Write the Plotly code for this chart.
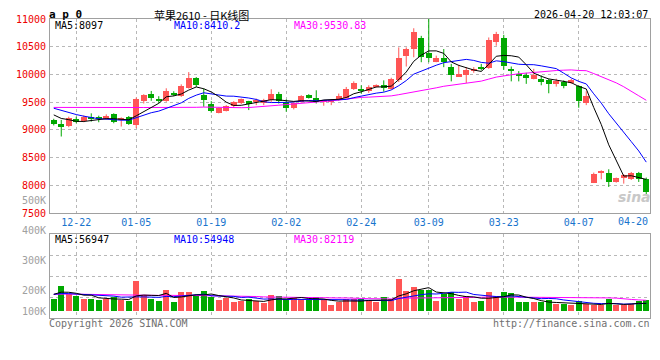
import plotly.graph_objects as go

# ---------------- data ----------------
dates = ["12-17", "12-18", "12-19", "12-22", "12-23", "12-24", "12-25", "12-26", "12-29", "12-30", "12-31",
         "01-05", "01-06", "01-07", "01-08", "01-09", "01-12", "01-13", "01-14", "01-15", "01-16",
         "01-19", "01-20", "01-21", "01-22", "01-23", "01-26", "01-27", "01-28", "01-29", "01-30",
         "02-02", "02-03", "02-04", "02-05", "02-06", "02-09", "02-10", "02-11", "02-12", "02-13",
         "02-24", "02-25", "02-26", "02-27",
         "03-02", "03-03", "03-04", "03-05", "03-06", "03-09", "03-10", "03-11", "03-12", "03-13",
         "03-16", "03-17", "03-18", "03-19", "03-20", "03-23", "03-24", "03-25", "03-26", "03-27",
         "03-30", "03-31", "04-01", "04-02", "04-03", "04-07", "04-08", "04-09", "04-10",
         "04-13", "04-14", "04-15", "04-16", "04-17", "04-20"]

opens = [9178, 9107, 9077, 9196, 9161, 9232, 9226, 9196, 9280, 9190,
         9226, 9089, 9524, 9643, 9565, 9524, 9673, 9607, 9756, 9934,
         9625, 9464, 9310, 9345, 9429, 9488, 9518, 9494, 9500, 9536,
         9655, 9506, 9387, 9506, 9625, 9583, 9512, 9506, 9536, 9583,
         9738, 9744, 9702, 9774, 9804, 9744, 9893, 10339, 10458, 10655,
         10387, 10232, 10298, 10143, 9970, 9994, 10060, 10131, 10113, 10577,
         10655, 10101, 10012, 9994, 9911, 9923, 9893, 9845, 9863, 9845,
         9786, 9476, 8048, 8229, 8217, 8060, 8139, 8108, 8217, 8108]
highs = [9200, 9180, 9238, 9238, 9260, 9298, 9256, 9280, 9298, 9225,
         9250, 9583, 9643, 9702, 9607, 9750, 9696, 9821, 10042, 9952,
         9744, 9518, 9405, 9446, 9518, 9565, 9524, 9565, 9560, 9732,
         9685, 9548, 9506, 9625, 9643, 9714, 9530, 9548, 9655, 9774,
         9875, 9804, 9804, 9821, 9893, 9940, 10488, 10488, 10833, 10696,
         11000, 10339, 10458, 10190, 10173, 10131, 10131, 10190, 10667, 10768,
         10714, 10143, 10060, 10030, 10101, 9982, 9923, 9923, 9893, 9923,
         9804, 9696, 8229, 8271, 8289, 8139, 8199, 8241, 8241, 8139]
lows = [9080, 8880, 9048, 9119, 9137, 9149, 9137, 9179, 9119, 9060,
        9090, 9030, 9476, 9524, 9488, 9506, 9607, 9595, 9744, 9774,
        9417, 9310, 9298, 9333, 9405, 9464, 9357, 9446, 9446, 9506,
        9476, 9327, 9369, 9488, 9565, 9476, 9435, 9446, 9524, 9565,
        9720, 9655, 9667, 9762, 9690, 9726, 9863, 10143, 10310, 10220,
        10220, 10220, 10131, 9875, 9970, 9845, 10030, 10071, 10101, 10518,
        10083, 9875, 9875, 9830, 9911, 9804, 9660, 9780, 9750, 9830,
        9399, 9446, 8040, 8108, 7970, 8048, 8030, 8096, 8060, 7837]
closes = [9107, 9060, 9208, 9143, 9238, 9190, 9190, 9250, 9137, 9220,
          9107, 9554, 9625, 9583, 9524, 9696, 9637, 9792, 9940, 9804,
          9536, 9345, 9387, 9429, 9506, 9548, 9458, 9536, 9536, 9643,
          9524, 9387, 9476, 9607, 9583, 9506, 9524, 9536, 9607, 9744,
          9845, 9702, 9774, 9804, 9756, 9910, 10292, 10458, 10768, 10310,
          10292, 10298, 10232, 9994, 10000, 10071, 10102, 10102, 10625, 10738,
          10149, 10071, 9982, 9934, 9982, 9863, 9833, 9875, 9792, 9893,
          9524, 9607, 8199, 8259, 8060, 8127, 8187, 8229, 8108, 7880]
volumes = [90, 182, 125, 107, 90, 90, 82, 90, 100, 82,
           75, 220, 120, 90, 75, 157, 65, 140, 140, 107,
           150, 100, 82, 95, 62, 75, 90, 75, 57, 120,
           112, 90, 95, 90, 82, 100, 82, 45, 62, 87,
           87, 90, 70, 62, 102, 90, 240, 150, 177, 157,
           152, 75, 125, 142, 90, 107, 65, 75, 142, 112,
           142, 135, 67, 62, 62, 62, 82, 52, 52, 45,
           70, 50, 40, 40, 87, 40, 40, 52, 70, 82]  # thousands of lots

# earlier sessions (before the window) that seed the moving averages (estimated)
prior_closes = [9100, 9180, 9150, 9220, 9200, 9180, 9240, 9150, 9250, 9200,
                9500, 9600, 9580, 9560, 9680, 9650, 9750, 9850, 9800, 9410,
                9480, 9520, 9550, 9530, 9470, 9380, 9320, 9290, 9253]
prior_volumes = [110, 130, 140, 120, 115, 135, 150, 125, 118, 130,
                 122, 140, 128, 112, 120, 135, 125, 118, 122, 105,
                 120, 135, 130, 118, 122, 100, 130, 145, 160]

tick_dates = ["12-22", "01-05", "01-19", "02-02", "02-24", "03-09", "03-23", "04-07", "04-20"]
price_ticks = [7500, 8000, 8500, 9000, 9500, 10000, 10500, 11000]
vol_labels = ["500K", "400K", "300K", "200K", "100K"]

title_text = "苹果2610 - 日K线图"
code_text = "a p 0"
time_text = "2026-04-20 12:03:07"
ma_price_text = ["MA5:8097", "MA10:8410.2", "MA30:9530.83"]
ma_vol_text = ["MA5:56947", "MA10:54948", "MA30:82119"]

# ---------------- helpers ----------------
PAGE_W, PAGE_H = 660, 360
OFF = 8  # the page body margin shifts the figure by 8px
W, H = PAGE_W - OFF, PAGE_H - OFF
PL, PR, PT, PB = 50, 650, 19, 318  # plot area in page pixels
ML, MR, MT, MB = PL - OFF, PAGE_W - PR, PT - OFF, PAGE_H - PB
PW, PH = PR - PL, PB - PT


def px_x(px):
    return (px - PL) / PW


def px_y(py):
    return (PB - py) / PH


def moving_average(seed, values, n):
    full = seed + values
    s = len(seed)
    return [sum(full[s + k - n + 1:s + k + 1]) / n for k in range(len(values))]


RED, GREEN = "#ff5555", "#00a800"
N = len(dates)
xs = list(range(N))
up = [c >= o for o, c in zip(opens, closes)]
colors = [RED if u else GREEN for u in up]

vol_units = [v * 1000 for v in volumes]
prior_vol_units = [v * 1000 for v in prior_volumes]

fig = go.Figure()

# wicks
for flag, col in ((True, RED), (False, GREEN)):
    wx, wy = [], []
    for i in xs:
        if up[i] == flag:
            wx += [i, i, None]
            wy += [lows[i], highs[i], None]
    fig.add_trace(go.Scatter(x=wx, y=wy, mode="lines", line=dict(color=col, width=1),
                             hoverinfo="skip", xaxis="x", yaxis="y"))

# bodies
bases = [min(o, c) for o, c in zip(opens, closes)]
heights = [max(abs(c - o), 14) for o, c in zip(opens, closes)]
fig.add_trace(go.Bar(x=xs, y=heights, base=bases, width=0.78,
                     marker=dict(color=colors, line=dict(width=0)),
                     xaxis="x", yaxis="y"))

# price moving averages
for n, col in ((30, "#ff00ff"), (10, "#0000ff"), (5, "#000000")):
    fig.add_trace(go.Scatter(x=xs, y=moving_average(prior_closes, closes, n), mode="lines",
                             line=dict(color=col, width=1), xaxis="x", yaxis="y"))

# volume bars
fig.add_trace(go.Bar(x=xs, y=vol_units, width=0.8,
                     marker=dict(color=colors, line=dict(width=0)),
                     xaxis="x2", yaxis="y2"))
for n, col in ((30, "#ff00ff"), (10, "#0000ff"), (5, "#000000")):
    fig.add_trace(go.Scatter(x=xs, y=moving_average(prior_vol_units, vol_units, n), mode="lines",
                             line=dict(color=col, width=1), xaxis="x2", yaxis="y2"))

# ---------------- layout ----------------
grid = dict(showgrid=True, gridcolor="#b8b8b8", griddash="dot", gridwidth=1, zeroline=False,
            showline=True, linecolor="#a0a0a0", linewidth=1, mirror=True, ticks="")
tickvals = [dates.index(d) for d in tick_dates[:-1]]

main_bottom = px_y(213)
vol_top = px_y(234.3)
vol_range = [-52500, 575250]
vol_grid = [vol_range[0] + k * (vol_range[1] - vol_range[0]) / 4 for k in range(1, 4)]

mono = "DejaVu Sans Mono"
fig.update_layout(
    width=W, height=H, margin=dict(l=ML, r=MR, t=MT, b=MB, autoexpand=False),
    paper_bgcolor="white", plot_bgcolor="white", showlegend=False,
    barmode="overlay", bargap=0,
    xaxis=dict(domain=[0, 1], range=[-0.5, N - 0.5], anchor="y", tickvals=tickvals,
               ticktext=tick_dates[:-1], tickfont=dict(family=mono, size=10, color="#1874cd"),
               **grid),
    yaxis=dict(domain=[main_bottom, 1], range=[7500, 11000], anchor="x", tickvals=price_ticks,
               ticktext=[str(v) for v in price_ticks],
               tickfont=dict(family=mono, size=10, color="#ee0000"), ticklabelstandoff=1, **grid),
    xaxis2=dict(domain=[0, 1], range=[-0.5, N - 0.5], anchor="y2", tickvals=tickvals,
                showticklabels=False, **grid),
    yaxis2=dict(domain=[0, vol_top], range=vol_range, anchor="x2", tickvals=vol_grid,
                showticklabels=False, **grid),
)

ann = []


def text(px, py, s, color="#000000", size=10, family=mono, anchor="left", bold=False):
    ann.append(dict(xref="paper", yref="paper", x=px_x(px), y=px_y(py), text=("<b>%s</b>" % s) if bold else s,
                    showarrow=False, xanchor=anchor, yanchor="middle", borderpad=0,
                    font=dict(family=family, size=size, color=color)))


text(48, 14.5, code_text, size=11, bold=True)
text(201, 15, title_text, size=11, family="Noto Sans CJK SC", anchor="center")
text(649, 14, time_text, size=10, anchor="right")
for px, s, col in zip((54, 173, 293), ma_price_text, ("#000000", "#0000ff", "#ff00ff")):
    text(px, 26, s, color=col)
for px, s, col in zip((54, 173, 293), ma_vol_text, ("#000000", "#0000ff", "#ff00ff")):
    text(px, 240, s, color=col)
for py, s in zip((200, 230, 260.7, 290.7, 311), vol_labels):
    text(47, py, s, color="#a0a0a0", anchor="right")
text(48, 323.5, "Copyright 2026 SINA.COM", color="#707070")
text(651, 323.5, "http://finance.sina.com.cn", color="#707070", anchor="right")
# last date label is pushed inside the right border
ann.append(dict(xref="x", yref="paper", x=N - 0.5, y=px_y(221), text=tick_dates[-1], showarrow=False,
                xanchor="right", yanchor="middle", xshift=-1, borderpad=0,
                font=dict(family=mono, size=10, color="#1874cd")))
# sina watermark
text(634, 197, "<i><b>sina</b></i>", color="#c8c8c8", size=14, family="DejaVu Sans", anchor="center")
fig.update_layout(annotations=ann)

fig.write_html("out.html")
